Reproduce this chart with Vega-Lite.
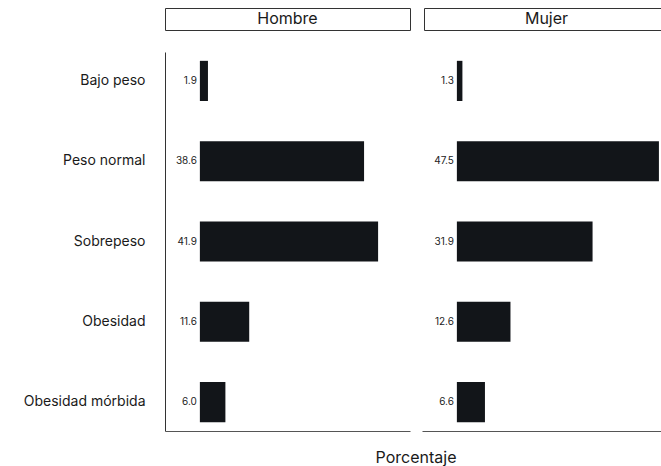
{
  "$schema": "https://vega.github.io/schema/vega-lite/v6.json",
  "padding": {"left": 23, "top": 7, "right": 0, "bottom": 0},
  "background": "white",
  "spacing": 18,
  "datasets": {
    "imc": [
      {"sexo": "Hombre", "imc": "Bajo peso", "pct": 1.9},
      {"sexo": "Hombre", "imc": "Peso normal", "pct": 38.6},
      {"sexo": "Hombre", "imc": "Sobrepeso", "pct": 41.9},
      {"sexo": "Hombre", "imc": "Obesidad", "pct": 11.6},
      {"sexo": "Hombre", "imc": "Obesidad mórbida", "pct": 6.0},
      {"sexo": "Mujer", "imc": "Bajo peso", "pct": 1.3},
      {"sexo": "Mujer", "imc": "Peso normal", "pct": 47.5},
      {"sexo": "Mujer", "imc": "Sobrepeso", "pct": 31.9},
      {"sexo": "Mujer", "imc": "Obesidad", "pct": 12.6},
      {"sexo": "Mujer", "imc": "Obesidad mórbida", "pct": 6.6}
    ],
    "titulo": [{"t": "Porcentaje"}]
  },
  "config": {
    "font": "Inter",
    "view": {"stroke": null},
    "facet": {"spacing": 12}
  },
  "vconcat": [
    {
      "spacing": 21,
      "vconcat": [
        {
          "data": {"name": "imc"},
          "transform": [{"filter": "datum.imc === 'Bajo peso'"}],
          "facet": {"column": {"field": "sexo", "type": "nominal", "header": null, "title": null}},
          "spacing": 12,
          "spec": {
            "width": 245,
            "height": 22,
            "view": {"stroke": "#333333", "strokeWidth": 1},
            "mark": {"type": "text", "fontSize": 16, "color": "#1a1a1a", "baseline": "middle", "align": "center"},
            "encoding": {
              "text": {"field": "sexo", "type": "nominal"}
            }
          }
        },
        {
          "data": {"name": "imc"},
          "facet": {"column": {"field": "sexo", "type": "nominal", "header": null, "title": null}},
          "spacing": 12,
          "spec": {
            "width": 245,
            "height": 379,
            "encoding": {
              "y": {
                "field": "imc", "type": "nominal",
                "sort": ["Bajo peso", "Peso normal", "Sobrepeso", "Obesidad", "Obesidad mórbida"],
                "scale": {"paddingInner": 0.5, "paddingOuter": 0.11},
                "axis": {"title": null, "ticks": false, "domainColor": "#333333", "labelFontSize": 14, "labelColor": "#1a1a1a", "labelPadding": 20, "labelFont": "Inter"}
              },
              "x": {
                "field": "pct", "type": "quantitative",
                "scale": {"domain": [-8.2, 49.4], "nice": false, "zero": false},
                "axis": {"title": null, "labels": false, "ticks": false, "grid": false, "domainColor": "#555555"}
              }
            },
            "layer": [
              {
                "mark": {"type": "bar", "color": "#121519"},
                "encoding": {"x2": {"datum": 0}}
              },
              {
                "mark": {"type": "text", "align": "right", "baseline": "middle", "dx": -3, "fontSize": 10, "color": "#222222"},
                "encoding": {
                  "x": {"datum": 0},
                  "text": {"field": "pct", "type": "quantitative", "format": ".1f"}
                }
              }
            ]
          }
        }
      ]
    },
    {
      "data": {"name": "titulo"},
      "width": 502,
      "height": 1,
      "mark": {"type": "text", "fontSize": 16, "color": "#1a1a1a", "baseline": "top", "align": "center"},
      "encoding": {
        "text": {"field": "t", "type": "nominal"}
      }
    }
  ]
}
